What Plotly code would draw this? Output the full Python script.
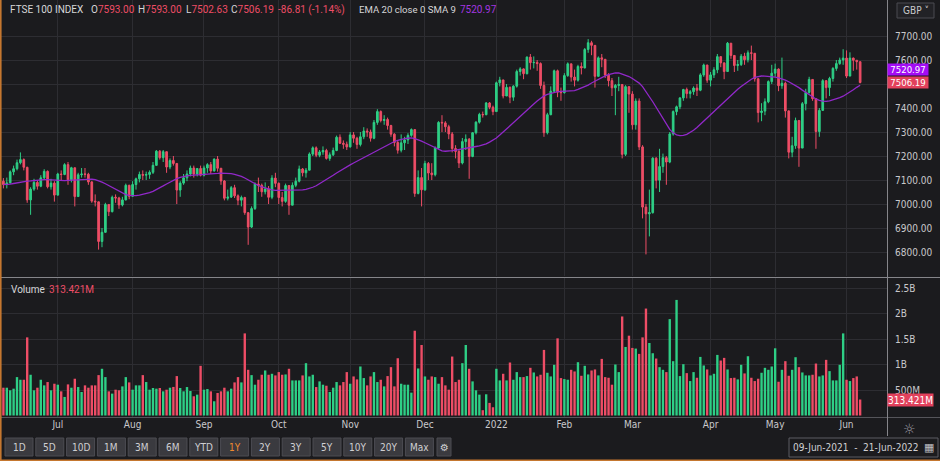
import pandas as pd
import plotly.graph_objects as go

# ---------------- data ----------------
holidays = ['2021-08-30', '2021-12-27', '2021-12-28', '2022-01-03', '2022-04-15',
            '2022-04-18', '2022-05-02', '2022-06-02', '2022-06-03']
dates = [d.strftime('%Y-%m-%d') for d in pd.bdate_range('2021-06-09', '2022-06-09')
         if d.strftime('%Y-%m-%d') not in holidays]

opens = [
    7095, 7081, 7088, 7134, 7147, 7172, 7185, 7153, 7017, 7062, 7090, 7074, 7109, 7136, 7072, 7087,
    7037, 7125, 7123, 7164, 7101, 7151, 7031, 7122, 7125, 7124, 7092, 7012, 7009, 6844, 6882, 6998, 6968, 7028, 7025, 6996, 7017, 7078,
    7032, 7081, 7105, 7123, 7120, 7123, 7132, 7161, 7220, 7193, 7218, 7154, 7181, 7169, 7058, 7087, 7109, 7125, 7150, 7125, 7148,
    7120, 7150, 7164, 7138, 7187, 7149, 7096, 7024, 7029, 7068, 7034, 7016, 7027, 6964, 6904, 6981, 7083, 7078, 7051, 7063, 7028, 7108,
    7086, 7027, 7011, 7077, 6995, 7078, 7095, 7146, 7130, 7141, 7208, 7234, 7203, 7217, 7223, 7190, 7205, 7223, 7278, 7253, 7249,
    7238, 7288, 7274, 7248, 7280, 7304, 7300, 7274, 7340, 7385, 7348, 7352, 7327, 7291, 7256, 7224, 7255, 7267, 7286, 7310, 7044, 7110,
    7059, 7169, 7129, 7122, 7233, 7340, 7338, 7322, 7292, 7231, 7219, 7171, 7260, 7270, 7198, 7297, 7341, 7373, 7372, 7421, 7403,
    7385, 7505, 7517, 7450, 7486, 7445, 7491, 7552, 7563, 7543, 7612, 7589, 7590, 7585, 7494, 7297, 7372, 7470, 7555, 7466,
    7464, 7535, 7584, 7529, 7516, 7573, 7567, 7644, 7672, 7661, 7532, 7609, 7603, 7537, 7514, 7484, 7494, 7498, 7207, 7489,
    7458, 7330, 7429, 7238, 6987, 6959, 6964, 7191, 7099, 7156, 7193, 7175, 7292, 7385, 7405, 7442, 7477, 7460, 7468, 7483, 7474, 7538, 7579,
    7516, 7538, 7559, 7614, 7588, 7552, 7670, 7619, 7577, 7581, 7616, 7601, 7630, 7628, 7522, 7381, 7387, 7426, 7510,
    7545, 7562, 7493, 7503, 7388, 7216, 7243, 7348, 7233, 7418, 7465, 7519, 7439, 7302, 7390, 7514, 7485, 7523, 7565, 7585, 7600,
    7608, 7533, 7608, 7599, 7593.00]

highs = [
    7108, 7110, 7140, 7160, 7185, 7215, 7190, 7155, 7070, 7105, 7100, 7120, 7145, 7140, 7105, 7095,
    7130, 7140, 7170, 7175, 7155, 7151, 7130, 7150, 7150, 7130, 7095, 7040, 7010, 6900, 7005, 7000, 7035, 7040, 7030, 7030, 7085, 7080,
    7095, 7110, 7135, 7140, 7135, 7140, 7175, 7225, 7225, 7225, 7218, 7190, 7200, 7169, 7095, 7125, 7140, 7160, 7160, 7150, 7160,
    7160, 7170, 7175, 7190, 7200, 7150, 7100, 7060, 7075, 7080, 7040, 7035, 7030, 6964, 6990, 7090, 7110, 7085, 7090, 7075, 7120, 7130,
    7090, 7050, 7085, 7077, 7090, 7110, 7160, 7150, 7150, 7215, 7240, 7240, 7225, 7240, 7230, 7215, 7235, 7285, 7290, 7265, 7260,
    7300, 7300, 7280, 7300, 7320, 7315, 7310, 7350, 7395, 7390, 7370, 7360, 7330, 7295, 7265, 7290, 7280, 7295, 7315, 7310, 7140, 7150,
    7180, 7175, 7170, 7240, 7345, 7370, 7345, 7330, 7300, 7245, 7225, 7275, 7290, 7275, 7300, 7345, 7380, 7385, 7425, 7425, 7410,
    7510, 7530, 7517, 7500, 7490, 7495, 7560, 7570, 7565, 7615, 7625, 7615, 7600, 7590, 7510, 7380, 7490, 7560, 7560, 7485,
    7545, 7590, 7584, 7560, 7580, 7590, 7650, 7687, 7680, 7661, 7615, 7625, 7603, 7545, 7525, 7500, 7530, 7500, 7495, 7490,
    7470, 7440, 7440, 7245, 7000, 7060, 7195, 7195, 7230, 7210, 7200, 7300, 7390, 7410, 7445, 7480, 7485, 7475, 7490, 7500, 7545, 7585, 7580,
    7550, 7570, 7625, 7615, 7590, 7675, 7670, 7620, 7600, 7625, 7630, 7640, 7660, 7628, 7522, 7420, 7440, 7515, 7580,
    7585, 7565, 7610, 7510, 7390, 7280, 7360, 7348, 7425, 7480, 7530, 7520, 7440, 7400, 7520, 7515, 7530, 7570, 7600, 7610, 7645,
    7640, 7632, 7610, 7600, 7593.00]

lows = [
    7065, 7065, 7085, 7120, 7140, 7165, 7140, 7005, 6955, 7055, 7060, 7070, 7100, 7065, 7060, 7010,
    7035, 7100, 7120, 7080, 7090, 6990, 7030, 7110, 7110, 7080, 7005, 6990, 6810, 6820, 6880, 6950, 6965, 7005, 6980, 6990, 7015, 7020,
    7030, 7060, 7090, 7100, 7100, 7105, 7125, 7160, 7185, 7175, 7130, 7145, 7160, 7000, 7030, 7080, 7095, 7115, 7110, 7115, 7115,
    7115, 7130, 7125, 7135, 7135, 7080, 7015, 7015, 7025, 7025, 6995, 6990, 6955, 6830, 6900, 6975, 7050, 7030, 7040, 7000, 7020, 7070,
    7000, 6990, 7005, 6955, 6995, 7070, 7090, 7115, 7110, 7140, 7200, 7195, 7195, 7205, 7185, 7180, 7200, 7220, 7250, 7230, 7225,
    7235, 7255, 7230, 7240, 7270, 7280, 7260, 7270, 7330, 7340, 7330, 7310, 7280, 7240, 7210, 7215, 7225, 7250, 7280, 7030, 7040, 6990,
    7055, 7100, 7100, 7115, 7230, 7300, 7300, 7270, 7215, 7190, 7150, 7165, 7225, 7105, 7195, 7290, 7335, 7360, 7370, 7395, 7370,
    7385, 7490, 7440, 7450, 7420, 7430, 7485, 7535, 7520, 7540, 7560, 7565, 7555, 7480, 7280, 7290, 7370, 7465, 7445, 7430,
    7460, 7530, 7510, 7490, 7510, 7540, 7565, 7630, 7620, 7485, 7530, 7570, 7525, 7490, 7450, 7370, 7470, 7190, 7200, 7380,
    7310, 7310, 7225, 6940, 6790, 6865, 6960, 7065, 7050, 7130, 7080, 7170, 7285, 7370, 7395, 7430, 7440, 7440, 7455, 7450, 7470, 7530, 7505,
    7490, 7525, 7545, 7570, 7520, 7550, 7605, 7550, 7555, 7575, 7580, 7590, 7600, 7510, 7340, 7345, 7370, 7420, 7500,
    7530, 7470, 7480, 7360, 7190, 7195, 7230, 7155, 7233, 7390, 7460, 7430, 7230, 7280, 7390, 7440, 7450, 7510, 7555, 7580, 7580,
    7525, 7533, 7555, 7560, 7502.63]

closes = [
    7081, 7088, 7134, 7147, 7172, 7185, 7153, 7017, 7062, 7090, 7074, 7109, 7136, 7072, 7087, 7037,
    7125, 7123, 7164, 7101, 7151, 7031, 7122, 7125, 7124, 7092, 7012, 7009, 6844, 6882, 6998, 6968, 7028, 7025, 6996, 7017, 7078, 7032,
    7081, 7105, 7123, 7120, 7123, 7132, 7161, 7220, 7193, 7218, 7154, 7181, 7169, 7058, 7087, 7109, 7125, 7150, 7125, 7148, 7120,
    7150, 7164, 7138, 7187, 7149, 7096, 7024, 7029, 7068, 7034, 7016, 7027, 6964, 6904, 6981, 7083, 7078, 7051, 7063, 7028, 7108, 7086,
    7027, 7011, 7077, 6995, 7078, 7095, 7146, 7130, 7141, 7208, 7234, 7203, 7217, 7223, 7190, 7205, 7223, 7278, 7253, 7249, 7238,
    7288, 7274, 7248, 7280, 7304, 7300, 7274, 7340, 7385, 7348, 7352, 7327, 7291, 7256, 7224, 7255, 7267, 7286, 7310, 7044, 7110, 7059,
    7169, 7129, 7122, 7233, 7340, 7338, 7322, 7292, 7231, 7219, 7171, 7260, 7270, 7198, 7297, 7341, 7373, 7372, 7421, 7403, 7385,
    7505, 7517, 7450, 7486, 7445, 7491, 7552, 7563, 7543, 7612, 7589, 7590, 7585, 7494, 7297, 7372, 7470, 7555, 7466, 7464,
    7535, 7584, 7529, 7516, 7573, 7567, 7644, 7672, 7661, 7532, 7609, 7603, 7537, 7514, 7484, 7494, 7498, 7207, 7489, 7458,
    7330, 7429, 7238, 6987, 6959, 6964, 7191, 7099, 7156, 7193, 7175, 7292, 7385, 7405, 7442, 7477, 7460, 7468, 7483, 7474, 7538, 7579, 7516,
    7538, 7559, 7614, 7588, 7552, 7670, 7619, 7577, 7581, 7616, 7601, 7630, 7628, 7522, 7381, 7387, 7426, 7510, 7545,
    7562, 7493, 7503, 7388, 7216, 7243, 7348, 7233, 7418, 7465, 7519, 7439, 7302, 7390, 7514, 7485, 7523, 7565, 7585, 7600, 7608,
    7533, 7608, 7599, 7593.00, 7506.19]

volumes_m = [
    545, 545, 494, 526, 753, 701, 701, 1532, 799, 494, 545, 701, 591, 656, 494, 623,
    604, 474, 364, 610, 545, 721, 558, 461, 591, 545, 591, 591, 792, 916, 753, 474, 429, 506, 494, 571, 753, 649,
    506, 591, 591, 792, 656, 506, 539, 526, 539, 474, 506, 545, 560, 773, 539, 474, 558, 481, 377, 409, 974,
    506, 519, 474, 279, 442, 474, 545, 474, 526, 649, 753, 649, 1610, 896, 792, 604, 701, 799, 883, 799, 818, 786,
    851, 799, 805, 916, 688, 688, 688, 786, 1026, 766, 799, 558, 669, 604, 584, 461, 545, 656, 591, 656, 851,
    623, 766, 708, 961, 734, 591, 766, 851, 656, 701, 571, 773, 948, 571, 1123, 623, 604, 604, 448, 1662, 922, 1383,
    766, 701, 766, 753, 623, 753, 591, 506, 1156, 656, 701, 1026, 1383, 916, 669, 494, 409, 104, 416, 247, 162,
    916, 688, 818, 688, 1039, 701, 851, 753, 753, 773, 935, 844, 766, 799, 1286, 838, 766, 994, 1513, 734,
    714, 701, 896, 864, 1045, 779, 974, 805, 883, 903, 786, 1110, 753, 740, 604, 1000, 851, 1942, 1344, 1565,
    1325, 1312, 1208, 1532, 2097, 1422, 1221, 1117, 948, 896, 851, 1890, 1065, 2266, 773, 1006, 831, 675, 851, 740, 1149, 981, 903,
    786, 818, 1188, 1078, 1130, 903, 734, 740, 708, 994, 825, 1162, 740, 675, 721, 838, 935, 896, 961,
    1318, 662, 896, 1065, 779, 896, 1143, 948, 844, 786, 786, 799, 1019, 766, 786, 1091, 870, 688, 688, 994, 1610,
    701, 675, 734, 766, 313.421]

month_tick_dates = ['2021-07-01', '2021-08-02', '2021-09-01', '2021-10-01', '2021-11-01', '2021-12-01',
                    '2022-01-04', '2022-02-01', '2022-03-01', '2022-04-01', '2022-05-03', '2022-06-01']
month_labels = ['Jul', 'Aug', 'Sep', 'Oct', 'Nov', 'Dec', '2022', 'Feb', 'Mar', 'Apr', 'May', 'Jun']
price_ticks = [6800, 6900, 7000, 7100, 7200, 7300, 7400, 7500, 7600, 7700]
# the 7500.00 label is hidden behind the last-close tag in the reference
price_tick_text = ['6800.00', '6900.00', '7000.00', '7100.00', '7200.00', '7300.00', '7400.00', '',
                   '7600.00', '7700.00']
vol_tick_vals = [500, 1000, 1500, 2000, 2500]
vol_tick_text = ['500M', '1B', '1.5B', '2B', '2.5B']
ema_last_label = 7520.97
range_buttons = ['1D', '5D', '10D', '1M', '3M', '6M', 'YTD', '1Y', '2Y', '3Y', '5Y', '10Y', '20Y', 'Max']
date_range_text = '09-Jun-2021  -  21-Jun-2022'

# ---------------- derived ----------------
ema = pd.Series(closes).ewm(span=20, adjust=False).mean().rolling(9, min_periods=1).mean()

BG = '#1b1b1e'
GRID = '#2d2d32'
GREEN = '#2ecf86'
RED = '#ee4d66'
PURPLE = '#9128c9'
TXT = '#c9c9cc'
SEP = '#85858a'
ORANGE = '#c5772f'
vol_colors = [GREEN if c >= o else RED for o, c in zip(opens, closes)]

W, H = 940, 461
PW, PH = 887, 417


def px(x):
    return x / PW


def py(y):
    return 1 - y / PH


FONT = 'Roboto, Arial, sans-serif'
NARROW = 'DejaVu Sans Condensed, Liberation Sans Narrow, Roboto, sans-serif'

fig = go.Figure()
fig.add_trace(go.Candlestick(
    x=dates, open=opens, high=highs, low=lows, close=closes,
    increasing=dict(line=dict(color=GREEN, width=1), fillcolor=GREEN),
    decreasing=dict(line=dict(color=RED, width=1), fillcolor=RED),
    whiskerwidth=0, showlegend=False, hoverinfo='skip', xaxis='x', yaxis='y'))
fig.add_trace(go.Scatter(
    x=dates, y=ema, mode='lines', line=dict(color=PURPLE, width=1.3),
    showlegend=False, hoverinfo='skip', xaxis='x', yaxis='y'))
fig.add_trace(go.Bar(
    x=dates, y=volumes_m, marker=dict(color=vol_colors, line=dict(width=0)),
    showlegend=False, hoverinfo='skip', xaxis='x', yaxis='y2'))

fig.update_layout(
    width=W, height=H, autosize=False,
    margin=dict(l=0, r=W - PW, t=0, b=H - PH),
    paper_bgcolor=BG, plot_bgcolor=BG,
    bargap=0.3, boxgap=0.3,
    font=dict(family=FONT, color=TXT, size=10),
    xaxis=dict(type='category', range=[-1.0, 259.9], tickvals=month_tick_dates, ticktext=month_labels,
               showgrid=True, gridcolor=GRID, gridwidth=1, zeroline=False, showline=False, ticks='',
               tickfont=dict(family=NARROW, size=10, color=TXT), rangeslider=dict(visible=False),
               anchor='y2', domain=[0, 1], fixedrange=True),
    yaxis=dict(domain=[py(276), 1], range=[6700, 7850], side='right', tickvals=price_ticks,
               ticktext=price_tick_text, showgrid=True, gridcolor=GRID, zeroline=False, showline=False,
               ticks='', ticklabelstandoff=7, tickfont=dict(family=NARROW, size=10, color=TXT),
               anchor='x', fixedrange=True),
    yaxis2=dict(domain=[0, py(278)], range=[-29.4, 2696], side='right', tickvals=vol_tick_vals,
                ticktext=vol_tick_text, showgrid=True, gridcolor=GRID, zeroline=False, showline=False,
                ticks='', ticklabelstandoff=7, tickfont=dict(family=NARROW, size=10, color=TXT),
                anchor='x', fixedrange=True),
)

shapes = []
# panel separators
shapes.append(dict(type='line', xref='paper', yref='paper', x0=0, x1=px(W), y0=py(277.5), y1=py(277.5),
                   line=dict(color=SEP, width=1)))
shapes.append(dict(type='line', xref='paper', yref='paper', x0=0, x1=px(W), y0=py(417.5), y1=py(417.5),
                   line=dict(color='#55555a', width=1)))
shapes.append(dict(type='line', xref='paper', yref='paper', x0=px(887.5), x1=px(887.5), y0=py(0), y1=py(436),
                   line=dict(color=SEP, width=1)))
# window border
shapes.append(dict(type='line', xref='paper', yref='paper', x0=px(0.8), x1=px(0.8), y0=py(0), y1=py(461),
                   line=dict(color=ORANGE, width=1.6)))
shapes.append(dict(type='line', xref='paper', yref='paper', x0=0, x1=px(W), y0=py(460.2), y1=py(460.2),
                   line=dict(color=ORANGE, width=1.6)))
# GBP button
shapes.append(dict(type='rect', xref='paper', yref='paper', x0=px(897), x1=px(934), y0=py(3), y1=py(18),
                   line=dict(color='#4a4a50', width=1), fillcolor='#222226'))

annotations = []


def txt(x, y, text, color=TXT, size=10, family=FONT, xanchor='left'):
    annotations.append(dict(xref='paper', yref='paper', x=px(x), y=py(y), text=text, showarrow=False,
                            xanchor=xanchor, yanchor='middle', font=dict(color=color, size=size, family=family)))


# header
chg = closes[-1] - closes[-2]
pct = chg / closes[-2] * 100
HDR = '#d6d6d8'
txt(8, 10, 'FTSE 100 INDEX', color=HDR)
txt(89, 10, 'O<span style="color:%s">%.2f</span>' % (RED, opens[-1]), color=HDR)
txt(136, 10, 'H<span style="color:%s">%.2f</span>' % (RED, highs[-1]), color=HDR)
txt(184, 10, 'L<span style="color:%s">%.2f</span>' % (RED, lows[-1]), color=HDR)
txt(229, 10, 'C<span style="color:%s">%.2f</span>' % (RED, closes[-1]), color=HDR)
txt(276, 10, '%.2f (%.2f%%)' % (chg, pct), color=RED)
txt(357, 10, 'EMA 20 close 0 SMA 9', color=HDR, size=9.6)
txt(458, 10, '%.2f' % ema_last_label, color='#a436e0')
txt(9, 289, 'Volume', color=HDR)
txt(47, 289, '%.3fM' % volumes_m[-1], color=RED)
txt(915.5, 10.5, 'GBP ˅', color=TXT, size=10, family=NARROW, xanchor='center')
txt(910, 429, '☼', color='#9a9aa0', size=14, family='DejaVu Sans', xanchor='center')

# right-hand value tags (EMA tag stacked above the close tag, as in the reference)
annotations.append(dict(xref='paper', yref='y', x=1, y=closes[-1], yshift=13, text='%.2f' % ema_last_label,
                        showarrow=False, xanchor='left', yanchor='middle', bgcolor='#a30cf5', borderpad=0,
                        width=40, height=11, font=dict(color='white', size=9.5, family=NARROW)))
annotations.append(dict(xref='paper', yref='y', x=1, y=closes[-1], text='%.2f' % closes[-1],
                        showarrow=False, xanchor='left', yanchor='middle', bgcolor='#e2415c', borderpad=0,
                        width=40, height=11, font=dict(color='white', size=9.5, family=NARROW)))
annotations.append(dict(xref='paper', yref='y2', x=1, y=volumes_m[-1], text='%.3fM' % volumes_m[-1],
                        showarrow=False, xanchor='left', yanchor='middle', bgcolor='#e2415c', borderpad=0,
                        width=45, height=12, font=dict(color='white', size=10, family=NARROW)))

# range buttons toolbar
for k, lab in enumerate(range_buttons):
    x0 = 5 + k * 30.8
    shapes.append(dict(type='rect', xref='paper', yref='paper', x0=px(x0), x1=px(x0 + 28), y0=py(438), y1=py(456),
                       line=dict(color='#4d4d53', width=1), fillcolor='#3a3a3f'))
    txt(x0 + 14, 447, lab, color='#ef8a2f' if lab == '1Y' else '#cfcfd2', size=10, family=NARROW, xanchor='center')
shapes.append(dict(type='rect', xref='paper', yref='paper', x0=px(437), x1=px(451), y0=py(438), y1=py(456),
                   line=dict(color='#4d4d53', width=1), fillcolor='#3a3a3f'))
txt(444, 447, '⚙', color='#cfcfd2', size=10, family='DejaVu Sans', xanchor='center')

# date range box
shapes.append(dict(type='rect', xref='paper', yref='paper', x0=px(789), x1=px(938), y0=py(438), y1=py(457),
                   line=dict(color='#5c5c62', width=1), fillcolor='#1b1b1e'))
txt(856, 447.5, date_range_text, color='#d0d0d3', size=10, family=NARROW, xanchor='center')
txt(929, 447.5, '▦', color='#bdbdc0', size=11, family='DejaVu Sans', xanchor='center')

fig.update_layout(shapes=shapes, annotations=annotations)
fig.write_html('out.html', config={'displayModeBar': False})
